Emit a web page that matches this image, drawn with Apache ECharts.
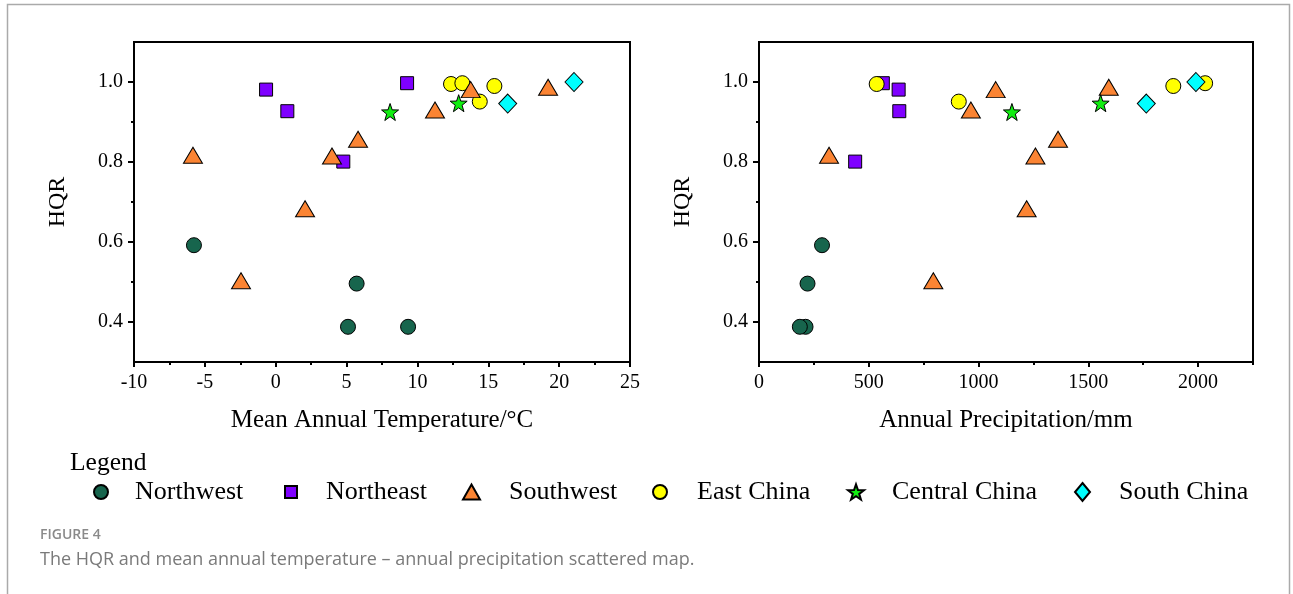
<!DOCTYPE html>
<html>
<head>
<meta charset="utf-8">
<script src="https://cdn.jsdelivr.net/npm/echarts@6/dist/echarts.min.js"></script>
<style>
  html, body { margin: 0; padding: 0; background: #fff; }
  #chart { width: 1293px; height: 594px; }
</style>
</head>
<body>
<div id="chart"></div>
<script>
// regions, legend order
var regions = ['Northwest', 'Northeast', 'Southwest', 'East China', 'Central China', 'South China']

// per-region values: mean annual temperature (°C), annual precipitation (mm), HQR
var nwTemp = [-5.77, 5.71, 9.34, 5.10]
var nwPrecip = [287, 221, 212, 186]
var nwHqr = [0.592, 0.496, 0.388, 0.388]

var neTemp = [-0.68, 0.82, 4.77, 9.27]
var nePrecip = [636, 639, 438, 564]
var neHqr = [0.981, 0.927, 0.801, 0.997]

var swTemp = [-5.84, -2.45, 2.07, 3.97, 5.81, 11.24, 13.76, 19.22]
var swPrecip = [319, 794, 1219, 1259, 1362, 965, 1078, 1593]
var swHqr = [0.817, 0.503, 0.683, 0.815, 0.857, 0.930, 0.981, 0.987]

var ecTemp = [12.37, 13.17, 14.40, 15.43]
var ecPrecip = [536, 2032, 910, 1887]
var ecHqr = [0.995, 0.997, 0.951, 0.990]

var ccTemp = [8.07, 12.91]
var ccPrecip = [1152, 1556]
var ccHqr = [0.925, 0.947]

var scTemp = [16.37, 21.05]
var scPrecip = [1764, 1990]
var scHqr = [0.946, 1.0]

// tick labels
var tempTicks = [-10, -5, 0, 5, 10, 15, 20, 25]
var tempMinor = [-7.5, -2.5, 2.5, 7.5, 12.5, 17.5, 22.5]
var precipTicks = [0, 500, 1000, 1500, 2000]
var precipMinor = [250, 750, 1250, 1750, 2250]
var hqrTicks = [0.4, 0.6, 0.8, 1.0]
var hqrMinor = [0.5, 0.7, 0.9]

var serif = "'Liberation Serif', 'Times New Roman', serif"
var sans = "'Open Sans', 'Noto Sans', sans-serif"
var starPath = 'path://M0,-10 L2.35,-3.24 L9.51,-3.09 L3.8,1.24 L5.88,8.09 L0,4 L-5.88,8.09 L-3.8,1.24 L-9.51,-3.09 L-2.35,-3.24 Z'

function pairs(xs, ys) {
  return xs.map(function (x, i) { return [x, ys[i]] })
}

function mainX(grid, min, max, ticks, name) {
  return {
    type: 'value', gridIndex: grid, position: 'bottom', min: min, max: max,
    name: name, nameLocation: 'middle', nameGap: 46,
    nameTextStyle: { fontFamily: serif, fontSize: 25, color: '#000' },
    axisLine: { show: true, onZero: false, lineStyle: { color: '#000', width: 2 } },
    axisTick: { show: true, customValues: ticks, length: 5, lineStyle: { color: '#000', width: 2 } },
    axisLabel: {
      customValues: ticks, margin: 11, fontFamily: serif, fontSize: 20, color: '#000',
      formatter: function (v) { return String(v) }
    },
    splitLine: { show: false }
  }
}

function minorX(grid, min, max, ticks) {
  return {
    type: 'value', gridIndex: grid, position: 'bottom', min: min, max: max,
    axisLine: { show: false, onZero: false },
    axisTick: { show: true, customValues: ticks, length: 3, lineStyle: { color: '#000', width: 2 } },
    axisLabel: { show: false },
    splitLine: { show: false }
  }
}

function mainY(grid) {
  return {
    type: 'value', gridIndex: grid, position: 'left', min: 0.3, max: 1.1,
    name: 'HQR', nameLocation: 'middle', nameGap: 64,
    nameTextStyle: { fontFamily: serif, fontSize: 24, color: '#000' },
    axisLine: { show: true, onZero: false, lineStyle: { color: '#000', width: 2 } },
    axisTick: { show: true, customValues: hqrTicks, length: 6, lineStyle: { color: '#000', width: 2 } },
    axisLabel: {
      customValues: hqrTicks, margin: 11, fontFamily: serif, fontSize: 20, color: '#000',
      formatter: function (v) { return v.toFixed(1) }
    },
    splitLine: { show: false }
  }
}

function minorY(grid) {
  return {
    type: 'value', gridIndex: grid, position: 'left', min: 0.3, max: 1.1,
    axisLine: { show: false, onZero: false },
    axisTick: { show: true, customValues: hqrMinor, length: 3, lineStyle: { color: '#000', width: 2 } },
    axisLabel: { show: false },
    splitLine: { show: false }
  }
}

// draw order: later series on top
var styles = [
  { name: 'Northwest', color: '#17654d', symbol: 'circle', size: 15, temp: nwTemp, precip: nwPrecip, hqr: nwHqr },
  { name: 'Northeast', color: '#7f00ff', symbol: 'rect', size: 13, temp: neTemp, precip: nePrecip, hqr: neHqr },
  { name: 'East China', color: '#ffff00', symbol: 'circle', size: 15, temp: ecTemp, precip: ecPrecip, hqr: ecHqr },
  { name: 'Southwest', color: '#fb8433', symbol: 'triangle', size: [19, 16], temp: swTemp, precip: swPrecip, hqr: swHqr },
  { name: 'Central China', color: '#11ee11', symbol: starPath, size: 17, temp: ccTemp, precip: ccPrecip, hqr: ccHqr },
  { name: 'South China', color: '#00ffff', symbol: 'diamond', size: [18, 19], temp: scTemp, precip: scPrecip, hqr: scHqr }
]

var series = []
styles.forEach(function (s) {
  var base = {
    type: 'scatter', name: s.name, symbol: s.symbol, symbolSize: s.size,
    itemStyle: { color: s.color, borderColor: '#000', borderWidth: 1, opacity: 1 },
    emphasis: { disabled: true }
  }
  series.push(Object.assign({}, base, { xAxisIndex: 0, yAxisIndex: 0, data: pairs(s.temp, s.hqr) }))
  series.push(Object.assign({}, base, { xAxisIndex: 2, yAxisIndex: 2, data: pairs(s.precip, s.hqr) }))
})

// one legend block per region so each icon keeps its own shape
var legendBoxes = [
  { left: 93, w: 14, h: 14, pad: 22 },
  { left: 284, w: 12, h: 12, pad: 24 },
  { left: 462, w: 17, h: 15, pad: 24 },
  { left: 652, w: 14, h: 14, pad: 25 },
  { left: 847, w: 16, h: 16, pad: 23 },
  { left: 1074, w: 15, h: 18, pad: 24 }
]
var legends = regions.map(function (r, i) {
  var b = legendBoxes[i]
  return {
    data: [r], left: b.left, top: 479, padding: 0, orient: 'horizontal',
    itemWidth: b.w, itemHeight: b.h, selectedMode: false,
    textStyle: { fontFamily: serif, fontSize: 26, color: '#000', padding: [0, 0, 0, b.pad] }
  }
})

var chart = echarts.init(document.getElementById('chart'))
chart.setOption({
  animation: false,
  backgroundColor: '#fff',
  title: [
    { text: 'Legend', left: 65, top: 445, textStyle: { fontFamily: serif, fontSize: 25.5, fontWeight: 'normal', color: '#000' } },
    { text: 'FIGURE 4', left: 35, top: 523, textStyle: { fontFamily: sans, fontSize: 14, fontWeight: 600, color: '#8a8a8a' } },
    { text: 'The HQR and mean annual temperature \u2013 annual precipitation scattered map.', left: 35, top: 546, textStyle: { fontFamily: sans, fontSize: 18, fontWeight: 'normal', color: '#7a7a7a' } }
  ],
  legend: legends,
  grid: [
    { left: 134, top: 42, width: 496, height: 320, show: true, borderColor: '#000', borderWidth: 2 },
    { left: 759, top: 42, width: 494, height: 320, show: true, borderColor: '#000', borderWidth: 2 }
  ],
  xAxis: [
    mainX(0, -10, 25, tempTicks, 'Mean Annual Temperature/°C'),
    minorX(0, -10, 25, tempMinor),
    mainX(1, 0, 2250, precipTicks, 'Annual Precipitation/mm'),
    minorX(1, 0, 2250, precipMinor)
  ],
  yAxis: [mainY(0), minorY(0), mainY(1), minorY(1)],
  graphic: [
    { type: 'rect', silent: true, z: -1, shape: { x: 7.5, y: 4.5, width: 1282, height: 620 }, style: { fill: 'none', stroke: '#aaaaaa', lineWidth: 1.5 } }
  ],
  series: series
})
</script>
</body>
</html>
